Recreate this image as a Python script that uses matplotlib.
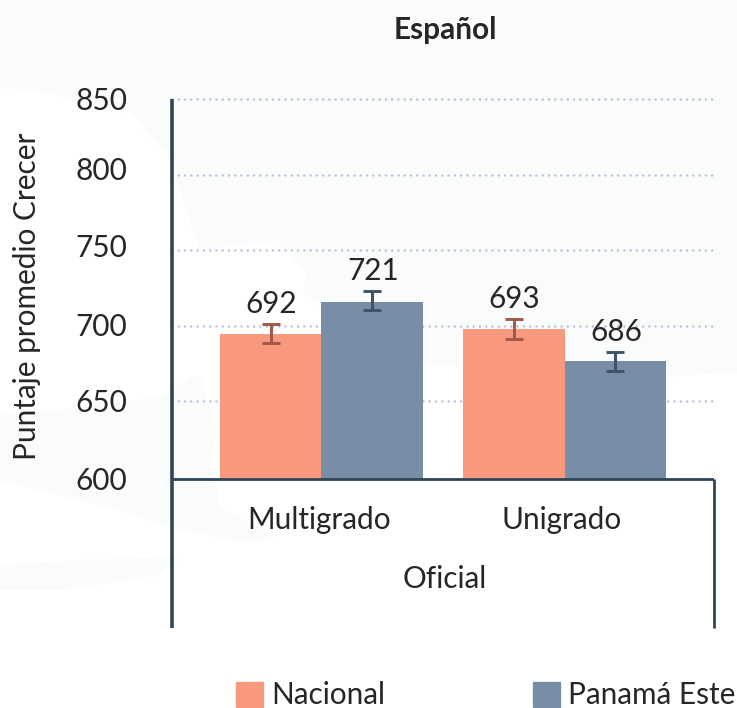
import matplotlib
matplotlib.use("Agg")
import numpy as np
import matplotlib.pyplot as plt
from matplotlib.patches import Patch, Polygon
from matplotlib.transforms import ScaledTranslation

plt.rcParams["font.family"] = ["Lato", "DejaVu Sans"]

W, H = 737, 708

categories = ["Multigrado", "Unigrado"]
group_label = "Oficial"
series_names = ["Nacional", "Panamá Este"]

# alturas
nacional = [694.6, 697.9]
panama_este = [715.7, 676.7]
nacional_low = [688.6, 691.3]
nacional_high = [701.2, 704.5]
panama_low = [710.4, 670.1]
panama_high = [723, 682.7]
nacional_labels = ["692", "693"]
panama_labels = ["721", "686"]

yticks = [600, 650, 700, 750, 800, 850]

COL_NAC = "#f8997e"
COL_PAN = "#788da6"
ERR_NAC = "#a05a4a"
ERR_PAN = "#3f5468"
AXIS = "#2f4558"
GRID = "#b9bfd8"
TEXT = "#262626"
LAND = "#fafbfb"
FS = 21.4
BASE = 599


def px(points):
    return [(x / W, 1 - y / H) for x, y in points]


fig = plt.figure(figsize=(W / 100, H / 100), dpi=100, facecolor="white")

# mapa de fondo, muy tenue
land_shapes = [
    [(0, 0), (737, 0), (737, 372), (640, 378), (500, 372), (423, 363), (340, 320),
     (303, 293), (307, 273), (277, 240), (200, 250), (167, 153), (130, 113), (60, 95), (0, 87)],
    [(0, 415), (60, 410), (160, 397), (193, 377), (200, 377), (217, 427), (210, 467),
     (217, 490), (220, 507), (277, 537), (250, 543), (183, 530), (100, 505), (0, 480)],
    [(0, 565), (80, 560), (180, 557), (160, 575), (60, 590), (0, 590)],
]
for shape in land_shapes:
    fig.add_artist(Polygon(px(shape), closed=True, facecolor=LAND, edgecolor="none", zorder=0))

ax = fig.add_axes([172 / W, 1 - 628 / H, (714 - 172) / W, (628 - 99) / H])
ax.patch.set_alpha(0)

x = np.arange(len(categories))
width = 0.418
x_nac = x - width / 2
x_pan = x + width / 2

y_min = 600 - (628 - 477) / 1.512
ax.set_xlim(-0.615, 1.615)
ax.set_ylim(y_min, 850)

ax.hlines(yticks[1:], -0.615, 1.628, colors=GRID, linewidth=1.8,
          linestyles=[(0, (0.01, 2.5))], capstyle="round", clip_on=False, zorder=1)

ax.bar(x_nac, np.array(nacional) - BASE, width, bottom=BASE, color=COL_NAC, zorder=2)
ax.bar(x_pan, np.array(panama_este) - BASE, width, bottom=BASE, color=COL_PAN, zorder=2)

for xs, low, high, col, labels in [
    (x_nac, nacional_low, nacional_high, ERR_NAC, nacional_labels),
    (x_pan, panama_low, panama_high, ERR_PAN, panama_labels),
]:
    low = np.array(low)
    high = np.array(high)
    mid = (low + high) / 2
    ax.errorbar(xs, mid, yerr=(high - low) / 2, fmt="none", ecolor=col,
                elinewidth=2.2, capsize=6.8, capthick=2.1, zorder=3)
    for xi, top, lab in zip(xs, high, labels):
        ax.annotate(lab, (xi, top), xytext=(0.5, 14.5), textcoords="offset points",
                    ha="center", va="center", fontsize=FS, color=TEXT, zorder=4)

ax.hlines(BASE, -0.615, 1.615, colors=AXIS, linewidth=2, zorder=3)

for side in ["top", "bottom"]:
    ax.spines[side].set_visible(False)
ax.spines["left"].set_color(AXIS)
ax.spines["left"].set_linewidth(2.6)
ax.spines["left"].set_capstyle("butt")
ax.spines["right"].set_color(AXIS)
ax.spines["right"].set_linewidth(2)
ax.spines["right"].set_capstyle("butt")
ax.spines["right"].set_bounds(y_min, BASE)

ax.set_xticks([])
ax.set_yticks(yticks)
ax.tick_params(axis="y", length=0, pad=32, labelsize=FS, labelcolor=TEXT)

# en el original las etiquetas 750 y 800 quedan algo por encima de su linea
for lab, dy in zip(ax.get_yticklabels(), [-1, 1, 1, 5, 6, 0]):
    lab.set_transform(lab.get_transform() + ScaledTranslation(0, dy / 100, fig.dpi_scale_trans))

trans = ax.get_xaxis_transform()
for xi, cat in zip(x, categories):
    ax.text(xi - 0.01, (628 - 520) / (628 - 99), cat, transform=trans, ha="center", va="center",
            fontsize=FS, color=TEXT)
ax.text(0.504, (628 - 579) / (628 - 99), group_label, transform=ax.transAxes, ha="center", va="center",
        fontsize=FS, color=TEXT)

fig.text(27 / W, 1 - 296 / H, "Puntaje promedio Crecer", rotation=90, ha="center", va="center",
         fontsize=FS, color=TEXT)
fig.text(445 / W, 1 - 30 / H, "Español", ha="center", va="center",
         fontsize=FS, fontweight="bold", color=TEXT)

handles = [Patch(color=COL_NAC, label=series_names[0]), Patch(color=COL_PAN, label=series_names[1])]
fig.legend(handles=handles, ncol=2, loc="lower left", bbox_to_anchor=(236 / W, -0.002),
           frameon=False, fontsize=FS, labelcolor=TEXT, borderpad=0, borderaxespad=0,
           handlelength=0.91, handleheight=0.91, handletextpad=0.27, columnspacing=4.98)

fig.savefig("out.png", dpi=100, facecolor="white")
